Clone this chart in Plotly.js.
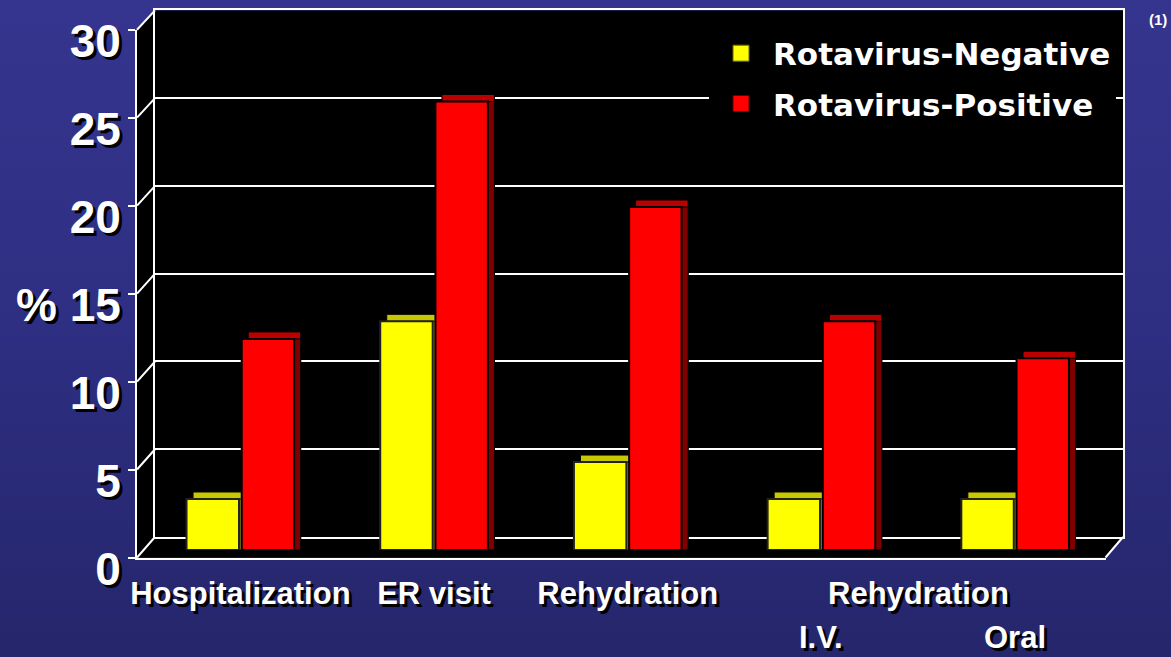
<!DOCTYPE html>
<html><head><meta charset="utf-8">
<script src="https://cdn.plot.ly/plotly-3.0.1.min.js"></script>
<style>
html,body{margin:0;padding:0;background:#2d2d80;}
#chart{width:1171px;height:657px;background:linear-gradient(180deg,#35358f 0%,#2e2e82 50%,#25266b 100%);}
</style></head><body><div id="chart"></div>
<script>
// ---- data ----
const categories = ['Hospitalization', 'ER visit', 'Rehydration', 'Rehydration I.V.', 'Rehydration Oral'];
const tickLabels = ['Hospitalization', 'ER visit', 'Rehydration', '', ''];
const subLabels = ['', '', '', 'I.V.', 'Oral'];
const groupLabel = 'Rehydration';
const rotaNegative = [2.9, 13, 5, 2.9, 2.9];
const rotaPositive = [12, 25.5, 19.5, 13, 10.9];
const seriesNames = ['Rotavirus-Negative', 'Rotavirus-Positive'];
const yTicks = [0, 5, 10, 15, 20, 25, 30];
const yMax = 30;
const note = '(1)';
const yLabel = '%';

// ---- geometry (pixels) ----
const W = 1171, H = 657;
const fx = p => p / W;
const fy = p => (H - p) / H;
const FRONT = {x0: 137, x1: 1105.5, yb: 557.5, yt: 29.7};
const BACK = {x0: 155, x1: 1123, yb: 537, yt: 10.4};
const BARS = {x0: 143.5, x1: 1112, yb: 550, yt: 22.3};
const SH = {dx: 6.5, dy: 7};

const FONT = 'Liberation Sans, Arial, sans-serif';
const LFONT = 'DejaVu Sans, Liberation Sans, sans-serif';
const SHADOW = '3px 3px 0px #000';

const colNeg = '#ffff00', colPos = '#ff0000';
const topNeg = '#c8c800', topPos = '#bb0000';
const sideNeg = '#8a8a00', sidePos = '#800000';

const frontY = v => FRONT.yb - v / yMax * (FRONT.yb - FRONT.yt);
const backY = v => BACK.yb - v / yMax * (BACK.yb - BACK.yt);

function barTrace(vals, color, lineColor, lw, xa, ya, name) {
  return {type: 'bar', x: categories, y: vals, xaxis: xa, yaxis: ya, name: name,
    marker: {color: color, line: {color: lineColor, width: lw}},
    showlegend: false, hoverinfo: 'skip'};
}

const data = [
  {type: 'scatter', x: [null], y: [null], xaxis: 'x', yaxis: 'y', showlegend: false, hoverinfo: 'skip'},
  {type: 'scatter', x: [null], y: [null], xaxis: 'x2', yaxis: 'y2', showlegend: false, hoverinfo: 'skip'},
  barTrace(rotaNegative, topNeg, '#000', 1, 'x3', 'y3', seriesNames[0]),
  barTrace(rotaPositive, topPos, '#000', 1, 'x3', 'y3', seriesNames[1]),
  barTrace(rotaNegative, sideNeg, '#000', 1, 'x4', 'y4', seriesNames[0]),
  barTrace(rotaPositive, sidePos, '#000', 1, 'x4', 'y4', seriesNames[1]),
  barTrace(rotaNegative, colNeg, '#222', 2, 'x5', 'y5', seriesNames[0]),
  barTrace(rotaPositive, colPos, '#000', 2, 'x5', 'y5', seriesNames[1]),
  {type: 'scatter', mode: 'markers', x: [null], y: [null], xaxis: 'x5', yaxis: 'y5', name: seriesNames[0],
   legendgroup: 'neg', marker: {symbol: 'square', size: 18, color: colNeg, line: {color: '#6b6b00', width: 1}}, hoverinfo: 'skip'},
  {type: 'scatter', mode: 'markers', x: [null], y: [null], xaxis: 'x5', yaxis: 'y5', name: seriesNames[1],
   legendgroup: 'pos', marker: {symbol: 'square', size: 18, color: colPos, line: {color: '#600000', width: 1}}, hoverinfo: 'skip'}
];

const hidden = {showgrid: false, zeroline: false, showticklabels: false, showline: false, ticks: '', fixedrange: true};
const catRange = [-0.5, categories.length - 0.5];

const layout = {
  width: W, height: H,
  margin: {l: 0, r: 0, t: 0, b: 0},
  paper_bgcolor: 'rgba(0,0,0,0)',
  plot_bgcolor: 'rgba(0,0,0,0)',
  showlegend: true,
  barmode: 'group', bargap: 0.43, bargroupgap: 0.05,
  font: {family: FONT, color: '#fff'},
  // back wall with gridlines
  xaxis: Object.assign({}, hidden, {domain: [fx(BACK.x0), fx(BACK.x1)], range: [0, 1], anchor: 'y',
    showline: true, mirror: true, linecolor: '#fff', linewidth: 2}),
  yaxis: Object.assign({}, hidden, {domain: [fy(BACK.yb), fy(BACK.yt)], range: [0, yMax], anchor: 'x',
    tickvals: yTicks, showgrid: true, gridcolor: '#fff', gridwidth: 2,
    showline: true, mirror: true, linecolor: '#fff', linewidth: 2}),
  // front frame with tick labels
  xaxis2: Object.assign({}, hidden, {domain: [fx(FRONT.x0), fx(FRONT.x1)], range: [0, 1], anchor: 'y2',
    showline: true, linecolor: '#fff', linewidth: 2}),
  yaxis2: Object.assign({}, hidden, {domain: [fy(FRONT.yb), fy(FRONT.yt)], range: [0, yMax], anchor: 'x2',
    tickvals: yTicks, showticklabels: true, ticks: 'outside', ticklen: 7, tickwidth: 2, tickcolor: '#fff',
    showline: true, linecolor: '#fff', linewidth: 2, ticklabelshift: 11, ticklabelstandoff: -2,
    ticklabeloverflow: 'allow',
    tickfont: {family: FONT, size: 46, color: '#fff', weight: 700, shadow: SHADOW}}),
  // bar depth shading
  xaxis3: Object.assign({}, hidden, {type: 'category', domain: [fx(BARS.x0 + SH.dx), fx(BARS.x1 + SH.dx)], range: catRange, anchor: 'y3'}),
  yaxis3: Object.assign({}, hidden, {domain: [fy(BARS.yb - SH.dy), fy(BARS.yt - SH.dy)], range: [0, yMax], anchor: 'x3'}),
  xaxis4: Object.assign({}, hidden, {type: 'category', domain: [fx(BARS.x0 + SH.dx), fx(BARS.x1 + SH.dx)], range: catRange, anchor: 'y4'}),
  yaxis4: Object.assign({}, hidden, {domain: [fy(BARS.yb), fy(BARS.yt)], range: [0, yMax], anchor: 'x4'}),
  // bar front faces + category labels
  xaxis5: Object.assign({}, hidden, {type: 'category', domain: [fx(BARS.x0), fx(BARS.x1)], range: catRange, anchor: 'y5',
    showticklabels: true, tickmode: 'array', tickvals: categories, ticktext: tickLabels, ticklabelstandoff: 22,
    tickfont: {family: FONT, size: 31, color: '#fff', weight: 700, shadow: SHADOW}}),
  yaxis5: Object.assign({}, hidden, {domain: [fy(BARS.yb), fy(BARS.yt)], range: [0, yMax], anchor: 'x5'}),
  legend: {x: fx(709), xanchor: 'left', y: fy(26.5), yanchor: 'top', bgcolor: '#000', borderwidth: 0,
    itemwidth: 54, tracegroupgap: 7, traceorder: 'grouped',
    font: {family: LFONT, size: 31, color: '#fff', weight: 700}},
  shapes: [],
  annotations: []
};

// black 3D box background
const P = (x, y) => fx(x) + ',' + fy(y);
layout.shapes.push({type: 'path', xref: 'paper', yref: 'paper', layer: 'below', fillcolor: '#000', line: {width: 0},
  path: 'M' + P(FRONT.x0, FRONT.yt) + 'L' + P(BACK.x0, BACK.yt) + 'L' + P(BACK.x1, BACK.yt) + 'L' + P(BACK.x1, BACK.yb) +
        'L' + P(FRONT.x1, FRONT.yb) + 'L' + P(FRONT.x0, FRONT.yb) + 'Z'});
// side wall diagonals at each tick
yTicks.forEach(v => {
  layout.shapes.push({type: 'line', xref: 'paper', yref: 'paper', layer: 'above',
    x0: fx(FRONT.x0), y0: fy(frontY(v)), x1: fx(BACK.x0), y1: fy(backY(v)), line: {color: '#fff', width: 2}});
});
// floor right edge
layout.shapes.push({type: 'line', xref: 'paper', yref: 'paper', layer: 'above',
  x0: fx(FRONT.x1), y0: fy(FRONT.yb), x1: fx(BACK.x1), y1: fy(BACK.yb), line: {color: '#fff', width: 2}});

// labels
const lblFont = {family: FONT, size: 31, color: '#fff', weight: 700, shadow: SHADOW};
layout.annotations.push({xref: 'x5', yref: 'paper', x: (categories.length - 2) + 0.5, y: fy(593), text: groupLabel,
  showarrow: false, xanchor: 'center', yanchor: 'middle', font: lblFont});
subLabels.forEach((t, i) => {
  if (t) layout.annotations.push({xref: 'x5', yref: 'paper', x: i, y: fy(637), text: t,
    showarrow: false, xanchor: 'center', yanchor: 'middle', font: lblFont});
});
layout.annotations.push({xref: 'paper', yref: 'y2', x: fx(36), y: 15, yshift: -11, text: yLabel, showarrow: false,
  xanchor: 'center', yanchor: 'middle', font: {family: FONT, size: 46, color: '#fff', weight: 700, shadow: SHADOW}});
layout.annotations.push({xref: 'paper', yref: 'paper', x: fx(1158), y: fy(19), text: note, showarrow: false,
  xanchor: 'center', yanchor: 'middle', font: {family: FONT, size: 15, color: '#fff', weight: 700}});

Plotly.newPlot('chart', data, layout, {displayModeBar: false, staticPlot: true});
</script></body></html>
